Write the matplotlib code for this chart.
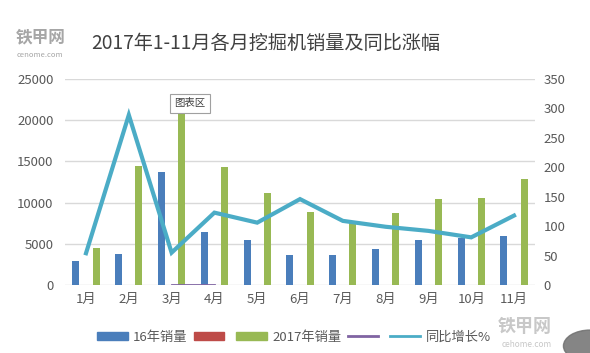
import numpy as np
import matplotlib
matplotlib.use('Agg')
from matplotlib import pyplot as plt
from matplotlib.patches import Patch, Circle
from matplotlib.lines import Line2D

plt.rcParams['font.family'] = ['Noto Sans CJK SC', 'DejaVu Sans']

# data
months = ['1月', '2月', '3月', '4月', '5月', '6月', '7月', '8月', '9月', '10月', '11月']
sales_2016 = [2950, 3730, 13700, 6430, 5420, 3640, 3640, 4330, 5420, 5740, 5950]
sales_red = [0, 0, 0, 0, 0, 0, 0, 0, 0, 0, 0]
sales_2017 = [4530, 14480, 22000, 14360, 11200, 8900, 7600, 8700, 10400, 10520, 12830]
purple_line = [np.nan, np.nan, 0, 0, np.nan, np.nan, np.nan, np.nan, np.nan, np.nan, np.nan]
yoy_growth = [54, 289, 55, 123, 106, 146, 109, 99, 92, 81, 118]

c_blue = '#4A7EBB'
c_red = '#BE4B48'
c_green = '#98B954'
c_purple = '#8064A2'
c_teal = '#4BACC6'
c_text = '#595959'

fig = plt.figure(figsize=(5.9, 3.53), dpi=100)
ax = fig.add_axes([0.1095, 0.1926, 0.798, 0.5834])
ax2 = ax.twinx()

x = np.arange(len(months))
w = 0.165
off = 0.235
ax.bar(x - off, sales_2016, w, color=c_blue, zorder=3)
ax.bar(x, sales_red, w, color=c_red, zorder=3)
ax.bar(x + off, sales_2017, w, color=c_green, zorder=3)

ax2.plot(x, purple_line, color=c_purple, lw=2, zorder=4)
ax2.plot(x, yoy_growth, color=c_teal, lw=3, zorder=5, solid_joinstyle='miter')

ax.set_xlim(-0.5, len(months) - 0.5)
ax.set_ylim(0, 25000)
ax.set_yticks(range(0, 25001, 5000))
ax2.set_ylim(0, 350)
ax2.set_yticks(range(0, 351, 50))
ax.set_xticks(x)
ax.set_xticklabels(months)

ax.grid(axis='y', color='#D9D9D9', lw=1, zorder=0)
for a in (ax, ax2):
    for s in a.spines.values():
        s.set_visible(False)
    a.tick_params(length=0, colors=c_text, labelsize=9.5)
ax.tick_params(axis='x', pad=6)
ax.tick_params(axis='y', pad=8)
ax2.tick_params(axis='y', pad=6)

# tooltip box left over from the screenshot, sits on top of the 3月 bar
ax2.text(2.43, 309, '图表区', fontsize=7.5, color='#404040', ha='center', va='center', zorder=8,
         bbox=dict(boxstyle='square,pad=0.45', fc='white', ec='#A0A0A0', lw=0.8))

# title and logo
fig.text(0.155, 0.878, '2017年1-11月各月挖掘机销量及同比涨幅', fontsize=13.8, color='#404040',
         ha='left', va='center')
fig.text(0.027, 0.895, '铁甲网', fontsize=12, color='#A6A6A6', ha='left', va='center', weight='bold')
fig.text(0.029, 0.845, 'cenome.com', fontsize=5.5, color='#A6A6A6', ha='left', va='center')

# legend
handles = [Patch(color=c_blue), Patch(color=c_red), Patch(color=c_green),
           Line2D([], [], color=c_purple, lw=2), Line2D([], [], color=c_teal, lw=2)]
labels = ['16年销量', '', '2017年销量', '', '同比增长%']
fig.legend(handles, labels, loc='center left', bbox_to_anchor=(0.145, 0.045), ncol=5,
           frameon=False, fontsize=9.5, handlelength=2.3, handleheight=0.55,
           handletextpad=0.4, columnspacing=0.5, labelcolor=c_text)

# watermark bottom right
fig.text(0.843, 0.075, '铁甲网', fontsize=13, color='#C8C8C8', ha='left', va='center', weight='bold')
fig.text(0.85, 0.025, 'cehome.com', fontsize=6, color='#C8C8C8', ha='left', va='center')
fig.patches.append(Circle((1.0, 0.02), 0.045, transform=fig.transFigure, color='#707070',
                          alpha=0.85, zorder=10))

fig.savefig('out.png', dpi=100)
